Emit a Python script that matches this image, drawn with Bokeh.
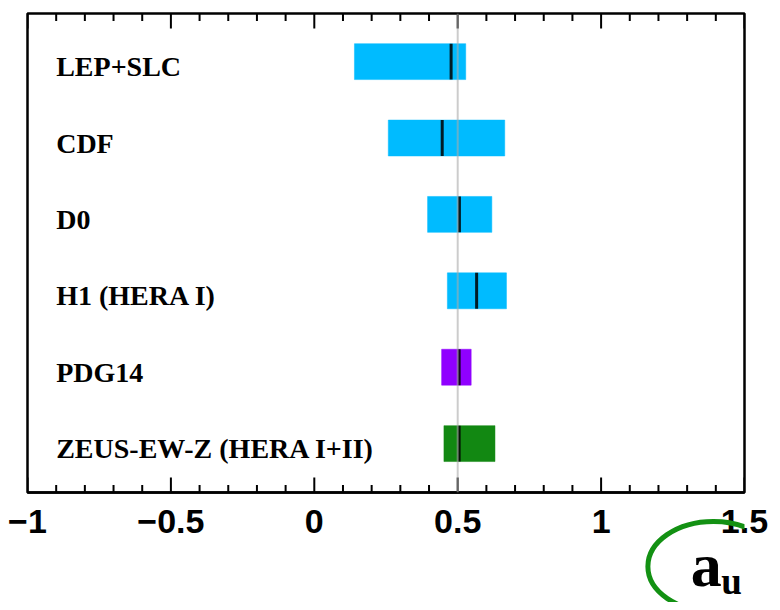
import numpy as np
from bokeh.plotting import figure
from bokeh.layouts import column
from bokeh.models import Range1d, FixedTicker, Span, ColumnDataSource
from bokeh.core.properties import value
from bokeh.embed import file_html
from bokeh.resources import INLINE

# ---- data ----
names = ["LEP+SLC", "CDF", "D0", "H1 (HERA I)", "PDG14", "ZEUS-EW-Z (HERA I+II)"]
rows = [6, 5, 4, 3, 2, 1]
central = [0.477, 0.446, 0.506, 0.566, 0.505, 0.505]
low = [0.140, 0.258, 0.395, 0.464, 0.444, 0.452]
high = [0.528, 0.664, 0.619, 0.670, 0.547, 0.630]
colors = ["#00bbff", "#00bbff", "#00bbff", "#00bbff", "#9000ff", "#128812"]
sm_value = 0.5
tick_values = [-1, -0.5, 0, 0.5, 1, 1.5]
tick_labels = ["\u22121", "\u22120.5", "0", "0.5", "1", "1.5"]
minor_values = [-0.9, -0.8, -0.7, -0.6, -0.4, -0.3, -0.2, -0.1,
                0.1, 0.2, 0.3, 0.4, 0.6, 0.7, 0.8, 0.9,
                1.1, 1.2, 1.3, 1.4]
label_x = -0.9
axis_title = ("a", "u")
x_start, x_end = -1, 1.5
y_start, y_end = 0.36, 6.63

src = ColumnDataSource(dict(name=names, row=rows, central=central, low=low,
                            high=high, color=colors,
                            lx=[label_x] * len(names)))

W, H = 772, 602
p = figure(width=W, height=H, output_backend="svg", toolbar_location=None,
           x_range=Range1d(x_start, x_end), y_range=Range1d(y_start, y_end),
           y_axis_location=None, x_axis_location="below",
           min_border_left=27, min_border_right=28, min_border_top=13,
           min_border_bottom=110)
p.grid.visible = False
p.outline_line_color = "black"
p.outline_line_width = 2.5
p.background_fill_color = "white"
p.border_fill_color = "white"

# bottom axis (labels)
ax = p.xaxis[0]
ax.ticker = FixedTicker(ticks=tick_values)
ax.major_label_overrides = {float(v): t for v, t in zip(tick_values, tick_labels)}
ax.major_tick_in = 0
ax.major_tick_out = 0
ax.minor_tick_in = 0
ax.minor_tick_out = 0
ax.axis_line_width = 2.5
ax.major_label_text_font = "Liberation Sans"
ax.major_label_text_font_style = "bold"
ax.major_label_text_font_size = "34px"
ax.major_label_text_color = "black"
ax.major_label_standoff = 17

# inward ticks on the bottom and top frame edges
for yy in (y_start, y_end):
    p.rect(x=tick_values, y=[yy] * len(tick_values), width=2, width_units="screen",
           height=30, height_units="screen", fill_color="black", line_color=None)
    p.rect(x=minor_values, y=[yy] * len(minor_values), width=2, width_units="screen",
           height=15, height_units="screen", fill_color="black", line_color=None)

# bars
p.hbar(y="row", left="low", right="high", height=0.47, source=src,
       fill_color="color", line_color="color", line_alpha=0.5)
# central values
p.rect(x="central", y="row", width=3, width_units="screen", height=0.47,
       source=src, fill_color="black", line_color=None, fill_alpha=0.85)

# SM reference line
p.add_layout(Span(location=sm_value, dimension="height", line_color="#aaaaaa",
                  line_width=2, line_alpha=0.6))

# labels
p.text(x="lx", y="row", text="name", source=src, text_baseline="middle",
       text_align="left", text_font=value("Liberation Serif"),
       text_font_style="bold", text_font_size="28px", text_color="black",
       y_offset=5)

# ---- transparent full-size overlay for the circled axis title a_u ----
SHIFT = 27  # overlay canvas sits this many pixels left of the main canvas
q = figure(width=W, height=H, output_backend="svg", title=None,
           toolbar_location=None, x_axis_location=None, y_axis_location=None,
           x_range=Range1d(-SHIFT, W - SHIFT), y_range=Range1d(H, 0),
           min_border=0, min_border_left=0, min_border_right=0,
           min_border_top=0, min_border_bottom=0)
q.grid.visible = False
q.outline_line_color = None
q.background_fill_color = None
q.border_fill_color = None
q.margin = (-H, 0, 0, 0)

q.ellipse(x=[711.5], y=[566], width=[131], height=[90], width_units="screen",
          height_units="screen", fill_color=None, line_color="#139113",
          line_width=5)
q.text(x=[687], y=[564], text=[axis_title[0]], text_baseline="middle",
       text_align="left", text_font=value("Liberation Serif"),
       text_font_style="bold", text_font_size="62px", text_color="black")
q.text(x=[720], y=[581], text=[axis_title[1]], text_baseline="middle",
       text_align="left", text_font=value("Liberation Serif"),
       text_font_style="bold", text_font_size="37px", text_color="black")

layout = column(p, q, spacing=0)
open("out.html", "w").write(file_html(layout, INLINE))
